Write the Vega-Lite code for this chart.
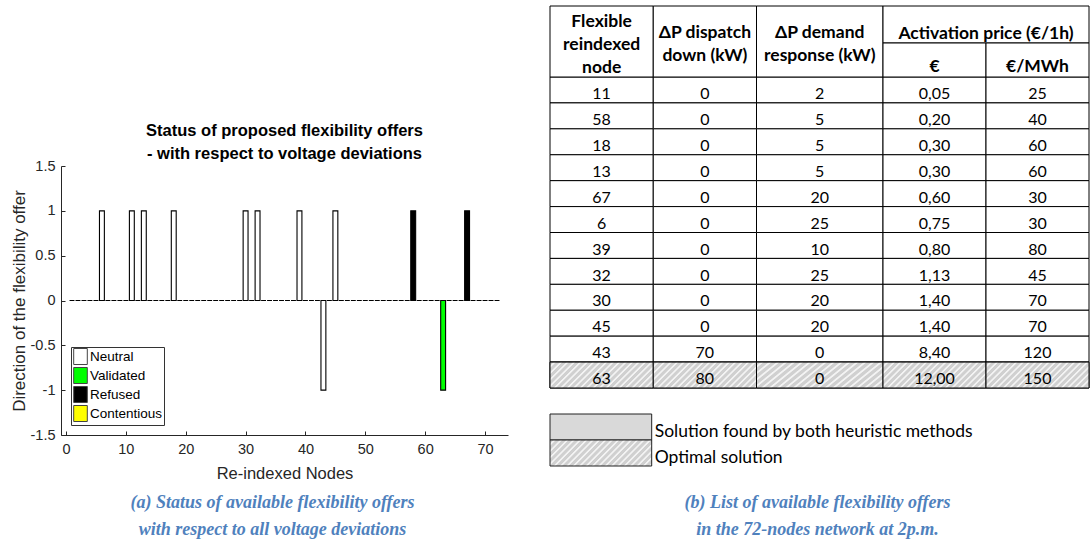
{
"$schema":"https://vega.github.io/schema/vega-lite/v6.json",
"width":447,"height":269,
"autosize":{"type":"none"},
"padding":{"left":61,"top":166,"right":582,"bottom":104},
"background":"white",
"config":{"view":{"stroke":null},"font":"Liberation Sans","locale":{"number":{"decimal":",","thousands":".","grouping":[3],"currency":["","\u00a0€"],"minus":"-"}}},
"title":{"text":["Status of proposed flexibility offers"," - with respect to voltage deviations"],"font":"Liberation Sans","fontSize":16.5,"fontWeight":"bold","color":"black","lineHeight":23,"offset":-157,"anchor":"middle","frame":"group"},
"datasets":{
"nodes":[{"node":1,"direction":0,"status":"None"},{"node":2,"direction":0,"status":"None"},{"node":3,"direction":0,"status":"None"},{"node":4,"direction":0,"status":"None"},{"node":5,"direction":0,"status":"None"},{"node":6,"direction":1,"status":"Neutral"},{"node":7,"direction":0,"status":"None"},{"node":8,"direction":0,"status":"None"},{"node":9,"direction":0,"status":"None"},{"node":10,"direction":0,"status":"None"},{"node":11,"direction":1,"status":"Neutral"},{"node":12,"direction":0,"status":"None"},{"node":13,"direction":1,"status":"Neutral"},{"node":14,"direction":0,"status":"None"},{"node":15,"direction":0,"status":"None"},{"node":16,"direction":0,"status":"None"},{"node":17,"direction":0,"status":"None"},{"node":18,"direction":1,"status":"Neutral"},{"node":19,"direction":0,"status":"None"},{"node":20,"direction":0,"status":"None"},{"node":21,"direction":0,"status":"None"},{"node":22,"direction":0,"status":"None"},{"node":23,"direction":0,"status":"None"},{"node":24,"direction":0,"status":"None"},{"node":25,"direction":0,"status":"None"},{"node":26,"direction":0,"status":"None"},{"node":27,"direction":0,"status":"None"},{"node":28,"direction":0,"status":"None"},{"node":29,"direction":0,"status":"None"},{"node":30,"direction":1,"status":"Neutral"},{"node":31,"direction":0,"status":"None"},{"node":32,"direction":1,"status":"Neutral"},{"node":33,"direction":0,"status":"None"},{"node":34,"direction":0,"status":"None"},{"node":35,"direction":0,"status":"None"},{"node":36,"direction":0,"status":"None"},{"node":37,"direction":0,"status":"None"},{"node":38,"direction":0,"status":"None"},{"node":39,"direction":1,"status":"Neutral"},{"node":40,"direction":0,"status":"None"},{"node":41,"direction":0,"status":"None"},{"node":42,"direction":0,"status":"None"},{"node":43,"direction":-1,"status":"Neutral"},{"node":44,"direction":0,"status":"None"},{"node":45,"direction":1,"status":"Neutral"},{"node":46,"direction":0,"status":"None"},{"node":47,"direction":0,"status":"None"},{"node":48,"direction":0,"status":"None"},{"node":49,"direction":0,"status":"None"},{"node":50,"direction":0,"status":"None"},{"node":51,"direction":0,"status":"None"},{"node":52,"direction":0,"status":"None"},{"node":53,"direction":0,"status":"None"},{"node":54,"direction":0,"status":"None"},{"node":55,"direction":0,"status":"None"},{"node":56,"direction":0,"status":"None"},{"node":57,"direction":0,"status":"None"},{"node":58,"direction":1,"status":"Refused"},{"node":59,"direction":0,"status":"None"},{"node":60,"direction":0,"status":"None"},{"node":61,"direction":0,"status":"None"},{"node":62,"direction":0,"status":"None"},{"node":63,"direction":-1,"status":"Validated"},{"node":64,"direction":0,"status":"None"},{"node":65,"direction":0,"status":"None"},{"node":66,"direction":0,"status":"None"},{"node":67,"direction":1,"status":"Refused"},{"node":68,"direction":0,"status":"None"},{"node":69,"direction":0,"status":"None"},{"node":70,"direction":0,"status":"None"},{"node":71,"direction":0,"status":"None"},{"node":72,"direction":0,"status":"None"}],
"table":[
{"node":11,"dispatch":0,"demand":2,"price":0.05,"mwh":25,"solution":"none"},
{"node":58,"dispatch":0,"demand":5,"price":0.20,"mwh":40,"solution":"none"},
{"node":18,"dispatch":0,"demand":5,"price":0.30,"mwh":60,"solution":"none"},
{"node":13,"dispatch":0,"demand":5,"price":0.30,"mwh":60,"solution":"none"},
{"node":67,"dispatch":0,"demand":20,"price":0.60,"mwh":30,"solution":"none"},
{"node":6,"dispatch":0,"demand":25,"price":0.75,"mwh":30,"solution":"none"},
{"node":39,"dispatch":0,"demand":10,"price":0.80,"mwh":80,"solution":"none"},
{"node":32,"dispatch":0,"demand":25,"price":1.13,"mwh":45,"solution":"none"},
{"node":30,"dispatch":0,"demand":20,"price":1.40,"mwh":70,"solution":"none"},
{"node":45,"dispatch":0,"demand":20,"price":1.40,"mwh":70,"solution":"none"},
{"node":43,"dispatch":70,"demand":0,"price":8.40,"mwh":120,"solution":"none"},
{"node":63,"dispatch":80,"demand":0,"price":12.00,"mwh":150,"solution":"optimal"}],
"header":[
{"col":"node","row":"full","label":"Flexible\nreindexed\nnode"},
{"col":"dispatch","row":"full","label":"ΔP dispatch\ndown (kW)"},
{"col":"demand","row":"full","label":"ΔP demand\nresponse (kW)"},
{"col":"activation","row":"top","label":"Activation price (€/1h)"},
{"col":"price","row":"bottom","label":"€"},
{"col":"mwh","row":"bottom","label":"€/MWh"}],
"key":[{"kind":"heuristic","label":"Solution found by both heuristic methods"},{"kind":"optimal","label":"Optimal solution"}],
"captions":[{"panel":"a","line":"1","text":"(a) Status of available flexibility offers"},{"panel":"a","line":"2","text":"with respect to all voltage deviations"},{"panel":"b","line":"1","text":"(b) List of available flexibility offers"},{"panel":"b","line":"2","text":"in the 72-nodes network at 2p.m."}]
},
"resolve":{"scale":{"x":"independent","y":"independent"}},
"layer":[
{"data":{"name":"nodes"},
 "mark":{"type":"bar","orient":"vertical","width":4.9,"stroke":"black","strokeWidth":1.1},
 "encoding":{
  "x":{"field":"node","type":"quantitative","scale":{"domain":[0,73],"nice":false,"zero":false},
   "axis":{"title":"Re-indexed Nodes","values":[0,10,20,30,40,50,60,70],"grid":false,"tickSize":-4,"labelPadding":11,"labelFlush":false,"labelFont":"Liberation Sans","labelFontSize":14.5,"labelColor":"#262626","domainColor":"#262626","tickColor":"#262626","titleFont":"Liberation Sans","titleFontSize":16.5,"titleFontWeight":"normal","titleColor":"#262626","titlePadding":10}},
  "y":{"field":"direction","type":"quantitative","stack":null,"scale":{"domain":[-1.5,1.5],"nice":false},
   "axis":{"title":"Direction of the flexibility offer","values":[-1.5,-1,-0.5,0,0.5,1,1.5],"format":"~g","labelExpr":"replace(datum.label, ',', '.')","grid":false,"tickSize":-4,"labelPadding":10,"labelFont":"Liberation Sans","labelFontSize":14.5,"labelColor":"#262626","domainColor":"#262626","tickColor":"#262626","titleFont":"Liberation Sans","titleFontSize":17,"titleFontWeight":"normal","titleColor":"#262626","titlePadding":2}},
  "color":{"field":"status","type":"nominal","scale":{"domain":["Neutral","Validated","Refused","Contentious","None"],"range":["#ffffff","#00ff00","#000000","#ffff00","#ffffff"]},
   "legend":{"title":null,"orient":"bottom-left","offset":10,"values":["Neutral","Validated","Refused","Contentious"],"symbolType":"M-0.85,-1H0.85V1H-0.85Z","symbolSize":256,"symbolStrokeColor":"#444444","symbolStrokeWidth":1,"labelFont":"Liberation Sans","labelFontSize":13.5,"labelColor":"black","labelOffset":1,"rowPadding":-4,"padding":1,"strokeColor":"#333333","fillColor":"white","encode":{"symbols":{"update":{"stroke":{"value":"#444444"},"strokeWidth":{"value":1}}}}}}
 }},
{"data":{"name":"table"},"transform":[{"fold":["node","dispatch"],"as":["column","value"]}],
 "mark":{"type":"rect","fill":"white","stroke":"black","strokeWidth":1},
 "encoding":{"x":{"field":"column","type":"nominal","scale":{"type":"band","domain":["node","dispatch"],"range":[489,695.5],"paddingInner":0,"paddingOuter":0},"axis":null},
  "y":{"field":"node","type":"nominal","scale":{"type":"band","domain":[11,58,18,13,67,6,39,32,30,45,43,63],"range":[-89,222],"paddingInner":0,"paddingOuter":0},"axis":null}}},
{"data":{"name":"table"},
 "mark":{"type":"rect","fill":"white","stroke":"black","strokeWidth":1},
 "encoding":{"x":{"datum":"demand","type":"nominal","scale":{"type":"band","domain":["demand"],"range":[695.5,822],"paddingInner":0,"paddingOuter":0},"axis":null},
  "y":{"field":"node","type":"nominal","scale":{"type":"band","domain":[11,58,18,13,67,6,39,32,30,45,43,63],"range":[-89,222],"paddingInner":0,"paddingOuter":0},"axis":null}}},
{"data":{"name":"table"},"transform":[{"fold":["price","mwh"],"as":["column","value"]}],
 "mark":{"type":"rect","fill":"white","stroke":"black","strokeWidth":1},
 "encoding":{"x":{"field":"column","type":"nominal","scale":{"type":"band","domain":["price","mwh"],"range":[822,1028],"paddingInner":0,"paddingOuter":0},"axis":null},
  "y":{"field":"node","type":"nominal","scale":{"type":"band","domain":[11,58,18,13,67,6,39,32,30,45,43,63],"range":[-89,222],"paddingInner":0,"paddingOuter":0},"axis":null}}},
{"data":{"name":"table"},"transform":[{"filter":"datum.solution === 'optimal'"},{"fold":["node","dispatch"],"as":["column","value"]}],
 "mark":{"type":"rect","stroke":"black","strokeWidth":1,"fill":{"gradient":"linear","x1":0,"y1":0,"x2":1.1775,"y2":0.2972,"stops":[{"offset":0,"color":"#d0d0d0"},{"offset":0.024,"color":"#d0d0d0"},{"offset":0.032,"color":"#f3f3f3"},{"offset":0.042,"color":"#f3f3f3"},{"offset":0.05,"color":"#d0d0d0"},{"offset":0.074,"color":"#d0d0d0"},{"offset":0.082,"color":"#f3f3f3"},{"offset":0.092,"color":"#f3f3f3"},{"offset":0.1,"color":"#d0d0d0"},{"offset":0.124,"color":"#d0d0d0"},{"offset":0.132,"color":"#f3f3f3"},{"offset":0.142,"color":"#f3f3f3"},{"offset":0.15,"color":"#d0d0d0"},{"offset":0.174,"color":"#d0d0d0"},{"offset":0.182,"color":"#f3f3f3"},{"offset":0.192,"color":"#f3f3f3"},{"offset":0.2,"color":"#d0d0d0"},{"offset":0.224,"color":"#d0d0d0"},{"offset":0.232,"color":"#f3f3f3"},{"offset":0.242,"color":"#f3f3f3"},{"offset":0.25,"color":"#d0d0d0"},{"offset":0.274,"color":"#d0d0d0"},{"offset":0.282,"color":"#f3f3f3"},{"offset":0.292,"color":"#f3f3f3"},{"offset":0.3,"color":"#d0d0d0"},{"offset":0.324,"color":"#d0d0d0"},{"offset":0.332,"color":"#f3f3f3"},{"offset":0.342,"color":"#f3f3f3"},{"offset":0.35,"color":"#d0d0d0"},{"offset":0.374,"color":"#d0d0d0"},{"offset":0.382,"color":"#f3f3f3"},{"offset":0.392,"color":"#f3f3f3"},{"offset":0.4,"color":"#d0d0d0"},{"offset":0.424,"color":"#d0d0d0"},{"offset":0.432,"color":"#f3f3f3"},{"offset":0.442,"color":"#f3f3f3"},{"offset":0.45,"color":"#d0d0d0"},{"offset":0.474,"color":"#d0d0d0"},{"offset":0.482,"color":"#f3f3f3"},{"offset":0.492,"color":"#f3f3f3"},{"offset":0.5,"color":"#d0d0d0"},{"offset":0.524,"color":"#d0d0d0"},{"offset":0.532,"color":"#f3f3f3"},{"offset":0.542,"color":"#f3f3f3"},{"offset":0.55,"color":"#d0d0d0"},{"offset":0.574,"color":"#d0d0d0"},{"offset":0.582,"color":"#f3f3f3"},{"offset":0.592,"color":"#f3f3f3"},{"offset":0.6,"color":"#d0d0d0"},{"offset":0.624,"color":"#d0d0d0"},{"offset":0.632,"color":"#f3f3f3"},{"offset":0.642,"color":"#f3f3f3"},{"offset":0.65,"color":"#d0d0d0"},{"offset":0.674,"color":"#d0d0d0"},{"offset":0.682,"color":"#f3f3f3"},{"offset":0.692,"color":"#f3f3f3"},{"offset":0.7,"color":"#d0d0d0"},{"offset":0.724,"color":"#d0d0d0"},{"offset":0.732,"color":"#f3f3f3"},{"offset":0.742,"color":"#f3f3f3"},{"offset":0.75,"color":"#d0d0d0"},{"offset":0.774,"color":"#d0d0d0"},{"offset":0.782,"color":"#f3f3f3"},{"offset":0.792,"color":"#f3f3f3"},{"offset":0.8,"color":"#d0d0d0"},{"offset":0.824,"color":"#d0d0d0"},{"offset":0.832,"color":"#f3f3f3"},{"offset":0.842,"color":"#f3f3f3"},{"offset":0.85,"color":"#d0d0d0"},{"offset":0.874,"color":"#d0d0d0"},{"offset":0.882,"color":"#f3f3f3"},{"offset":0.892,"color":"#f3f3f3"},{"offset":0.9,"color":"#d0d0d0"},{"offset":0.924,"color":"#d0d0d0"},{"offset":0.932,"color":"#f3f3f3"},{"offset":0.942,"color":"#f3f3f3"},{"offset":0.95,"color":"#d0d0d0"},{"offset":0.974,"color":"#d0d0d0"},{"offset":0.982,"color":"#f3f3f3"},{"offset":0.992,"color":"#f3f3f3"},{"offset":1,"color":"#d0d0d0"}]}},
 "encoding":{"x":{"field":"column","type":"nominal","scale":{"type":"band","domain":["node","dispatch"],"range":[489,695.5],"paddingInner":0,"paddingOuter":0},"axis":null},
  "y":{"field":"node","type":"nominal","scale":{"type":"band","domain":[11,58,18,13,67,6,39,32,30,45,43,63],"range":[-89,222],"paddingInner":0,"paddingOuter":0},"axis":null}}},
{"data":{"name":"table"},"transform":[{"filter":"datum.solution === 'optimal'"}],
 "mark":{"type":"rect","stroke":"black","strokeWidth":1,"fill":{"gradient":"linear","x1":0,"y1":0,"x2":1.1775,"y2":0.2972,"stops":[{"offset":0,"color":"#d0d0d0"},{"offset":0.024,"color":"#d0d0d0"},{"offset":0.032,"color":"#f3f3f3"},{"offset":0.042,"color":"#f3f3f3"},{"offset":0.05,"color":"#d0d0d0"},{"offset":0.074,"color":"#d0d0d0"},{"offset":0.082,"color":"#f3f3f3"},{"offset":0.092,"color":"#f3f3f3"},{"offset":0.1,"color":"#d0d0d0"},{"offset":0.124,"color":"#d0d0d0"},{"offset":0.132,"color":"#f3f3f3"},{"offset":0.142,"color":"#f3f3f3"},{"offset":0.15,"color":"#d0d0d0"},{"offset":0.174,"color":"#d0d0d0"},{"offset":0.182,"color":"#f3f3f3"},{"offset":0.192,"color":"#f3f3f3"},{"offset":0.2,"color":"#d0d0d0"},{"offset":0.224,"color":"#d0d0d0"},{"offset":0.232,"color":"#f3f3f3"},{"offset":0.242,"color":"#f3f3f3"},{"offset":0.25,"color":"#d0d0d0"},{"offset":0.274,"color":"#d0d0d0"},{"offset":0.282,"color":"#f3f3f3"},{"offset":0.292,"color":"#f3f3f3"},{"offset":0.3,"color":"#d0d0d0"},{"offset":0.324,"color":"#d0d0d0"},{"offset":0.332,"color":"#f3f3f3"},{"offset":0.342,"color":"#f3f3f3"},{"offset":0.35,"color":"#d0d0d0"},{"offset":0.374,"color":"#d0d0d0"},{"offset":0.382,"color":"#f3f3f3"},{"offset":0.392,"color":"#f3f3f3"},{"offset":0.4,"color":"#d0d0d0"},{"offset":0.424,"color":"#d0d0d0"},{"offset":0.432,"color":"#f3f3f3"},{"offset":0.442,"color":"#f3f3f3"},{"offset":0.45,"color":"#d0d0d0"},{"offset":0.474,"color":"#d0d0d0"},{"offset":0.482,"color":"#f3f3f3"},{"offset":0.492,"color":"#f3f3f3"},{"offset":0.5,"color":"#d0d0d0"},{"offset":0.524,"color":"#d0d0d0"},{"offset":0.532,"color":"#f3f3f3"},{"offset":0.542,"color":"#f3f3f3"},{"offset":0.55,"color":"#d0d0d0"},{"offset":0.574,"color":"#d0d0d0"},{"offset":0.582,"color":"#f3f3f3"},{"offset":0.592,"color":"#f3f3f3"},{"offset":0.6,"color":"#d0d0d0"},{"offset":0.624,"color":"#d0d0d0"},{"offset":0.632,"color":"#f3f3f3"},{"offset":0.642,"color":"#f3f3f3"},{"offset":0.65,"color":"#d0d0d0"},{"offset":0.674,"color":"#d0d0d0"},{"offset":0.682,"color":"#f3f3f3"},{"offset":0.692,"color":"#f3f3f3"},{"offset":0.7,"color":"#d0d0d0"},{"offset":0.724,"color":"#d0d0d0"},{"offset":0.732,"color":"#f3f3f3"},{"offset":0.742,"color":"#f3f3f3"},{"offset":0.75,"color":"#d0d0d0"},{"offset":0.774,"color":"#d0d0d0"},{"offset":0.782,"color":"#f3f3f3"},{"offset":0.792,"color":"#f3f3f3"},{"offset":0.8,"color":"#d0d0d0"},{"offset":0.824,"color":"#d0d0d0"},{"offset":0.832,"color":"#f3f3f3"},{"offset":0.842,"color":"#f3f3f3"},{"offset":0.85,"color":"#d0d0d0"},{"offset":0.874,"color":"#d0d0d0"},{"offset":0.882,"color":"#f3f3f3"},{"offset":0.892,"color":"#f3f3f3"},{"offset":0.9,"color":"#d0d0d0"},{"offset":0.924,"color":"#d0d0d0"},{"offset":0.932,"color":"#f3f3f3"},{"offset":0.942,"color":"#f3f3f3"},{"offset":0.95,"color":"#d0d0d0"},{"offset":0.974,"color":"#d0d0d0"},{"offset":0.982,"color":"#f3f3f3"},{"offset":0.992,"color":"#f3f3f3"},{"offset":1,"color":"#d0d0d0"}]}},
 "encoding":{"x":{"datum":"demand","type":"nominal","scale":{"type":"band","domain":["demand"],"range":[695.5,822],"paddingInner":0,"paddingOuter":0},"axis":null},
  "y":{"field":"node","type":"nominal","scale":{"type":"band","domain":[11,58,18,13,67,6,39,32,30,45,43,63],"range":[-89,222],"paddingInner":0,"paddingOuter":0},"axis":null}}},
{"data":{"name":"table"},"transform":[{"filter":"datum.solution === 'optimal'"},{"fold":["price","mwh"],"as":["column","value"]}],
 "mark":{"type":"rect","stroke":"black","strokeWidth":1,"fill":{"gradient":"linear","x1":0,"y1":0,"x2":1.1775,"y2":0.2972,"stops":[{"offset":0,"color":"#d0d0d0"},{"offset":0.024,"color":"#d0d0d0"},{"offset":0.032,"color":"#f3f3f3"},{"offset":0.042,"color":"#f3f3f3"},{"offset":0.05,"color":"#d0d0d0"},{"offset":0.074,"color":"#d0d0d0"},{"offset":0.082,"color":"#f3f3f3"},{"offset":0.092,"color":"#f3f3f3"},{"offset":0.1,"color":"#d0d0d0"},{"offset":0.124,"color":"#d0d0d0"},{"offset":0.132,"color":"#f3f3f3"},{"offset":0.142,"color":"#f3f3f3"},{"offset":0.15,"color":"#d0d0d0"},{"offset":0.174,"color":"#d0d0d0"},{"offset":0.182,"color":"#f3f3f3"},{"offset":0.192,"color":"#f3f3f3"},{"offset":0.2,"color":"#d0d0d0"},{"offset":0.224,"color":"#d0d0d0"},{"offset":0.232,"color":"#f3f3f3"},{"offset":0.242,"color":"#f3f3f3"},{"offset":0.25,"color":"#d0d0d0"},{"offset":0.274,"color":"#d0d0d0"},{"offset":0.282,"color":"#f3f3f3"},{"offset":0.292,"color":"#f3f3f3"},{"offset":0.3,"color":"#d0d0d0"},{"offset":0.324,"color":"#d0d0d0"},{"offset":0.332,"color":"#f3f3f3"},{"offset":0.342,"color":"#f3f3f3"},{"offset":0.35,"color":"#d0d0d0"},{"offset":0.374,"color":"#d0d0d0"},{"offset":0.382,"color":"#f3f3f3"},{"offset":0.392,"color":"#f3f3f3"},{"offset":0.4,"color":"#d0d0d0"},{"offset":0.424,"color":"#d0d0d0"},{"offset":0.432,"color":"#f3f3f3"},{"offset":0.442,"color":"#f3f3f3"},{"offset":0.45,"color":"#d0d0d0"},{"offset":0.474,"color":"#d0d0d0"},{"offset":0.482,"color":"#f3f3f3"},{"offset":0.492,"color":"#f3f3f3"},{"offset":0.5,"color":"#d0d0d0"},{"offset":0.524,"color":"#d0d0d0"},{"offset":0.532,"color":"#f3f3f3"},{"offset":0.542,"color":"#f3f3f3"},{"offset":0.55,"color":"#d0d0d0"},{"offset":0.574,"color":"#d0d0d0"},{"offset":0.582,"color":"#f3f3f3"},{"offset":0.592,"color":"#f3f3f3"},{"offset":0.6,"color":"#d0d0d0"},{"offset":0.624,"color":"#d0d0d0"},{"offset":0.632,"color":"#f3f3f3"},{"offset":0.642,"color":"#f3f3f3"},{"offset":0.65,"color":"#d0d0d0"},{"offset":0.674,"color":"#d0d0d0"},{"offset":0.682,"color":"#f3f3f3"},{"offset":0.692,"color":"#f3f3f3"},{"offset":0.7,"color":"#d0d0d0"},{"offset":0.724,"color":"#d0d0d0"},{"offset":0.732,"color":"#f3f3f3"},{"offset":0.742,"color":"#f3f3f3"},{"offset":0.75,"color":"#d0d0d0"},{"offset":0.774,"color":"#d0d0d0"},{"offset":0.782,"color":"#f3f3f3"},{"offset":0.792,"color":"#f3f3f3"},{"offset":0.8,"color":"#d0d0d0"},{"offset":0.824,"color":"#d0d0d0"},{"offset":0.832,"color":"#f3f3f3"},{"offset":0.842,"color":"#f3f3f3"},{"offset":0.85,"color":"#d0d0d0"},{"offset":0.874,"color":"#d0d0d0"},{"offset":0.882,"color":"#f3f3f3"},{"offset":0.892,"color":"#f3f3f3"},{"offset":0.9,"color":"#d0d0d0"},{"offset":0.924,"color":"#d0d0d0"},{"offset":0.932,"color":"#f3f3f3"},{"offset":0.942,"color":"#f3f3f3"},{"offset":0.95,"color":"#d0d0d0"},{"offset":0.974,"color":"#d0d0d0"},{"offset":0.982,"color":"#f3f3f3"},{"offset":0.992,"color":"#f3f3f3"},{"offset":1,"color":"#d0d0d0"}]}},
 "encoding":{"x":{"field":"column","type":"nominal","scale":{"type":"band","domain":["price","mwh"],"range":[822,1028],"paddingInner":0,"paddingOuter":0},"axis":null},
  "y":{"field":"node","type":"nominal","scale":{"type":"band","domain":[11,58,18,13,67,6,39,32,30,45,43,63],"range":[-89,222],"paddingInner":0,"paddingOuter":0},"axis":null}}},
{"data":{"name":"table"},"transform":[{"fold":["node","dispatch"],"as":["column","value"]}],
 "mark":{"type":"text","font":"Lato","fontSize":16,"color":"black","align":"center","baseline":"middle","dy":4.2},
 "encoding":{"x":{"field":"column","type":"nominal","bandPosition":0.5,"scale":{"type":"band","domain":["node","dispatch"],"range":[489,695.5],"paddingInner":0,"paddingOuter":0},"axis":null},
  "y":{"field":"node","type":"nominal","bandPosition":0.5,"scale":{"type":"band","domain":[11,58,18,13,67,6,39,32,30,45,43,63],"range":[-89,222],"paddingInner":0,"paddingOuter":0},"axis":null},
  "text":{"field":"value","type":"nominal"}}},
{"data":{"name":"table"},
 "mark":{"type":"text","font":"Lato","fontSize":16,"color":"black","align":"center","baseline":"middle","dy":4.2},
 "encoding":{"x":{"datum":"demand","type":"nominal","bandPosition":0.5,"scale":{"type":"band","domain":["demand"],"range":[695.5,822],"paddingInner":0,"paddingOuter":0},"axis":null},
  "y":{"field":"node","type":"nominal","bandPosition":0.5,"scale":{"type":"band","domain":[11,58,18,13,67,6,39,32,30,45,43,63],"range":[-89,222],"paddingInner":0,"paddingOuter":0},"axis":null},
  "text":{"field":"demand","type":"quantitative","format":"d"}}},
{"data":{"name":"table"},
 "mark":{"type":"text","font":"Lato","fontSize":16,"color":"black","align":"center","baseline":"middle","dy":4.2},
 "encoding":{"x":{"datum":"price","type":"nominal","bandPosition":0.5,"scale":{"type":"band","domain":["price","mwh"],"range":[822,1028],"paddingInner":0,"paddingOuter":0},"axis":null},
  "y":{"field":"node","type":"nominal","bandPosition":0.5,"scale":{"type":"band","domain":[11,58,18,13,67,6,39,32,30,45,43,63],"range":[-89,222],"paddingInner":0,"paddingOuter":0},"axis":null},
  "text":{"field":"price","type":"quantitative","format":".2f"}}},
{"data":{"name":"table"},
 "mark":{"type":"text","font":"Lato","fontSize":16,"color":"black","align":"center","baseline":"middle","dy":4.2},
 "encoding":{"x":{"datum":"mwh","type":"nominal","bandPosition":0.5,"scale":{"type":"band","domain":["price","mwh"],"range":[822,1028],"paddingInner":0,"paddingOuter":0},"axis":null},
  "y":{"field":"node","type":"nominal","bandPosition":0.5,"scale":{"type":"band","domain":[11,58,18,13,67,6,39,32,30,45,43,63],"range":[-89,222],"paddingInner":0,"paddingOuter":0},"axis":null},
  "text":{"field":"mwh","type":"quantitative","format":"d"}}},
{"data":{"name":"header"},"transform":[{"filter":{"field":"col","oneOf":["node","dispatch"]}}],
 "mark":{"type":"rect","fill":"white","stroke":"black","strokeWidth":1},
 "encoding":{"x":{"field":"col","type":"nominal","scale":{"type":"band","domain":["node","dispatch"],"range":[489,695.5],"paddingInner":0,"paddingOuter":0},"axis":null},
  "y":{"field":"row","type":"nominal","scale":{"type":"band","domain":["full"],"range":[-160,-89],"paddingInner":0,"paddingOuter":0},"axis":null}}},
{"data":{"name":"header"},"transform":[{"filter":{"field":"col","oneOf":["demand"]}}],
 "mark":{"type":"rect","fill":"white","stroke":"black","strokeWidth":1},
 "encoding":{"x":{"field":"col","type":"nominal","scale":{"type":"band","domain":["demand"],"range":[695.5,822],"paddingInner":0,"paddingOuter":0},"axis":null},
  "y":{"field":"row","type":"nominal","scale":{"type":"band","domain":["full"],"range":[-160,-89],"paddingInner":0,"paddingOuter":0},"axis":null}}},
{"data":{"name":"header"},"transform":[{"filter":{"field":"col","oneOf":["activation"]}}],
 "mark":{"type":"rect","fill":"white","stroke":"black","strokeWidth":1},
 "encoding":{"x":{"field":"col","type":"nominal","scale":{"type":"band","domain":["activation"],"range":[822,1028],"paddingInner":0,"paddingOuter":0},"axis":null},
  "y":{"field":"row","type":"nominal","scale":{"type":"band","domain":["top"],"range":[-160,-123],"paddingInner":0,"paddingOuter":0},"axis":null}}},
{"data":{"name":"header"},"transform":[{"filter":{"field":"col","oneOf":["price","mwh"]}}],
 "mark":{"type":"rect","fill":"white","stroke":"black","strokeWidth":1},
 "encoding":{"x":{"field":"col","type":"nominal","scale":{"type":"band","domain":["price","mwh"],"range":[822,1028],"paddingInner":0,"paddingOuter":0},"axis":null},
  "y":{"field":"row","type":"nominal","scale":{"type":"band","domain":["bottom"],"range":[-123,-89],"paddingInner":0,"paddingOuter":0},"axis":null}}},
{"data":{"name":"header"},"transform":[{"filter":{"field":"col","oneOf":["node"]}}],
 "mark":{"type":"text","font":"Lato","fontSize":17.5,"fontWeight":"bold","color":"black","align":"center","baseline":"middle","lineBreak":"\n","lineHeight":23,"dy":-20},
 "encoding":{"x":{"field":"col","type":"nominal","bandPosition":0.5,"scale":{"type":"band","domain":["node","dispatch"],"range":[489,695.5],"paddingInner":0,"paddingOuter":0},"axis":null},
  "y":{"field":"row","type":"nominal","bandPosition":0.5,"scale":{"type":"band","domain":["full"],"range":[-160,-89],"paddingInner":0,"paddingOuter":0},"axis":null},
  "text":{"field":"label","type":"nominal"}}},
{"data":{"name":"header"},"transform":[{"filter":{"field":"col","oneOf":["dispatch"]}}],
 "mark":{"type":"text","font":"Lato","fontSize":17.5,"fontWeight":"bold","color":"black","align":"center","baseline":"middle","lineBreak":"\n","lineHeight":23,"dy":-8.5},
 "encoding":{"x":{"field":"col","type":"nominal","bandPosition":0.5,"scale":{"type":"band","domain":["node","dispatch"],"range":[489,695.5],"paddingInner":0,"paddingOuter":0},"axis":null},
  "y":{"field":"row","type":"nominal","bandPosition":0.5,"scale":{"type":"band","domain":["full"],"range":[-160,-89],"paddingInner":0,"paddingOuter":0},"axis":null},
  "text":{"field":"label","type":"nominal"}}},
{"data":{"name":"header"},"transform":[{"filter":{"field":"col","oneOf":["demand"]}}],
 "mark":{"type":"text","font":"Lato","fontSize":17.5,"fontWeight":"bold","color":"black","align":"center","baseline":"middle","lineBreak":"\n","lineHeight":23,"dy":-8.5},
 "encoding":{"x":{"field":"col","type":"nominal","bandPosition":0.5,"scale":{"type":"band","domain":["demand"],"range":[695.5,822],"paddingInner":0,"paddingOuter":0},"axis":null},
  "y":{"field":"row","type":"nominal","bandPosition":0.5,"scale":{"type":"band","domain":["full"],"range":[-160,-89],"paddingInner":0,"paddingOuter":0},"axis":null},
  "text":{"field":"label","type":"nominal"}}},
{"data":{"name":"header"},"transform":[{"filter":{"field":"col","oneOf":["activation"]}}],
 "mark":{"type":"text","font":"Lato","fontSize":17.5,"fontWeight":"bold","color":"black","align":"center","baseline":"middle","dy":9},
 "encoding":{"x":{"field":"col","type":"nominal","bandPosition":0.5,"scale":{"type":"band","domain":["activation"],"range":[822,1028],"paddingInner":0,"paddingOuter":0},"axis":null},
  "y":{"field":"row","type":"nominal","bandPosition":0.5,"scale":{"type":"band","domain":["top"],"range":[-160,-123],"paddingInner":0,"paddingOuter":0},"axis":null},
  "text":{"field":"label","type":"nominal"}}},
{"data":{"name":"header"},"transform":[{"filter":{"field":"col","oneOf":["price","mwh"]}}],
 "mark":{"type":"text","font":"Lato","fontSize":17.5,"fontWeight":"bold","color":"black","align":"center","baseline":"middle","dy":7},
 "encoding":{"x":{"field":"col","type":"nominal","bandPosition":0.5,"scale":{"type":"band","domain":["price","mwh"],"range":[822,1028],"paddingInner":0,"paddingOuter":0},"axis":null},
  "y":{"field":"row","type":"nominal","bandPosition":0.5,"scale":{"type":"band","domain":["bottom"],"range":[-123,-89],"paddingInner":0,"paddingOuter":0},"axis":null},
  "text":{"field":"label","type":"nominal"}}},
{"data":{"name":"key"},"transform":[{"filter":"datum.kind === 'heuristic'"}],
 "mark":{"type":"rect","fill":"#d9d9d9","stroke":"#222222","strokeWidth":1},
 "encoding":{"x":{"datum":"box","type":"nominal","scale":{"type":"band","domain":["box"],"range":[489,590.7],"paddingInner":0,"paddingOuter":0},"axis":null},
  "y":{"field":"kind","type":"nominal","scale":{"type":"band","domain":["heuristic","optimal"],"range":[248,300],"paddingInner":0,"paddingOuter":0},"axis":null}}},
{"data":{"name":"key"},"transform":[{"filter":"datum.kind === 'optimal'"}],
 "mark":{"type":"rect","stroke":"#222222","strokeWidth":1,"fill":{"gradient":"linear","x1":0,"y1":0,"x2":1.1775,"y2":0.2972,"stops":[{"offset":0,"color":"#d0d0d0"},{"offset":0.024,"color":"#d0d0d0"},{"offset":0.032,"color":"#f3f3f3"},{"offset":0.042,"color":"#f3f3f3"},{"offset":0.05,"color":"#d0d0d0"},{"offset":0.074,"color":"#d0d0d0"},{"offset":0.082,"color":"#f3f3f3"},{"offset":0.092,"color":"#f3f3f3"},{"offset":0.1,"color":"#d0d0d0"},{"offset":0.124,"color":"#d0d0d0"},{"offset":0.132,"color":"#f3f3f3"},{"offset":0.142,"color":"#f3f3f3"},{"offset":0.15,"color":"#d0d0d0"},{"offset":0.174,"color":"#d0d0d0"},{"offset":0.182,"color":"#f3f3f3"},{"offset":0.192,"color":"#f3f3f3"},{"offset":0.2,"color":"#d0d0d0"},{"offset":0.224,"color":"#d0d0d0"},{"offset":0.232,"color":"#f3f3f3"},{"offset":0.242,"color":"#f3f3f3"},{"offset":0.25,"color":"#d0d0d0"},{"offset":0.274,"color":"#d0d0d0"},{"offset":0.282,"color":"#f3f3f3"},{"offset":0.292,"color":"#f3f3f3"},{"offset":0.3,"color":"#d0d0d0"},{"offset":0.324,"color":"#d0d0d0"},{"offset":0.332,"color":"#f3f3f3"},{"offset":0.342,"color":"#f3f3f3"},{"offset":0.35,"color":"#d0d0d0"},{"offset":0.374,"color":"#d0d0d0"},{"offset":0.382,"color":"#f3f3f3"},{"offset":0.392,"color":"#f3f3f3"},{"offset":0.4,"color":"#d0d0d0"},{"offset":0.424,"color":"#d0d0d0"},{"offset":0.432,"color":"#f3f3f3"},{"offset":0.442,"color":"#f3f3f3"},{"offset":0.45,"color":"#d0d0d0"},{"offset":0.474,"color":"#d0d0d0"},{"offset":0.482,"color":"#f3f3f3"},{"offset":0.492,"color":"#f3f3f3"},{"offset":0.5,"color":"#d0d0d0"},{"offset":0.524,"color":"#d0d0d0"},{"offset":0.532,"color":"#f3f3f3"},{"offset":0.542,"color":"#f3f3f3"},{"offset":0.55,"color":"#d0d0d0"},{"offset":0.574,"color":"#d0d0d0"},{"offset":0.582,"color":"#f3f3f3"},{"offset":0.592,"color":"#f3f3f3"},{"offset":0.6,"color":"#d0d0d0"},{"offset":0.624,"color":"#d0d0d0"},{"offset":0.632,"color":"#f3f3f3"},{"offset":0.642,"color":"#f3f3f3"},{"offset":0.65,"color":"#d0d0d0"},{"offset":0.674,"color":"#d0d0d0"},{"offset":0.682,"color":"#f3f3f3"},{"offset":0.692,"color":"#f3f3f3"},{"offset":0.7,"color":"#d0d0d0"},{"offset":0.724,"color":"#d0d0d0"},{"offset":0.732,"color":"#f3f3f3"},{"offset":0.742,"color":"#f3f3f3"},{"offset":0.75,"color":"#d0d0d0"},{"offset":0.774,"color":"#d0d0d0"},{"offset":0.782,"color":"#f3f3f3"},{"offset":0.792,"color":"#f3f3f3"},{"offset":0.8,"color":"#d0d0d0"},{"offset":0.824,"color":"#d0d0d0"},{"offset":0.832,"color":"#f3f3f3"},{"offset":0.842,"color":"#f3f3f3"},{"offset":0.85,"color":"#d0d0d0"},{"offset":0.874,"color":"#d0d0d0"},{"offset":0.882,"color":"#f3f3f3"},{"offset":0.892,"color":"#f3f3f3"},{"offset":0.9,"color":"#d0d0d0"},{"offset":0.924,"color":"#d0d0d0"},{"offset":0.932,"color":"#f3f3f3"},{"offset":0.942,"color":"#f3f3f3"},{"offset":0.95,"color":"#d0d0d0"},{"offset":0.974,"color":"#d0d0d0"},{"offset":0.982,"color":"#f3f3f3"},{"offset":0.992,"color":"#f3f3f3"},{"offset":1,"color":"#d0d0d0"}]}},
 "encoding":{"x":{"datum":"box","type":"nominal","scale":{"type":"band","domain":["box"],"range":[489,590.7],"paddingInner":0,"paddingOuter":0},"axis":null},
  "y":{"field":"kind","type":"nominal","scale":{"type":"band","domain":["heuristic","optimal"],"range":[248,300],"paddingInner":0,"paddingOuter":0},"axis":null}}},
{"data":{"name":"key"},
 "mark":{"type":"text","font":"Lato","fontSize":17.5,"color":"black","align":"left","baseline":"middle","dx":3,"dy":5},
 "encoding":{"x":{"datum":"box","type":"nominal","bandPosition":1,"scale":{"type":"band","domain":["box"],"range":[489,590.7],"paddingInner":0,"paddingOuter":0},"axis":null},
  "y":{"field":"kind","type":"nominal","bandPosition":0.5,"scale":{"type":"band","domain":["heuristic","optimal"],"range":[248,300],"paddingInner":0,"paddingOuter":0},"axis":null},
  "text":{"field":"label","type":"nominal"}}},
{"data":{"name":"captions"},
 "mark":{"type":"text","font":"Liberation Serif","fontSize":18,"fontStyle":"italic","fontWeight":"bold","color":"#4f81bd","align":"center","baseline":"middle","dy":1},
 "encoding":{"x":{"field":"panel","type":"nominal","bandPosition":0.5,"scale":{"type":"band","domain":["a","b"],"range":[-61,1029],"paddingInner":0,"paddingOuter":0},"axis":null},
  "y":{"field":"line","type":"nominal","bandPosition":0.5,"scale":{"type":"band","domain":["1","2"],"range":[322.5,376.5],"paddingInner":0,"paddingOuter":0},"axis":null},
  "text":{"field":"text","type":"nominal"}}}
]
}
